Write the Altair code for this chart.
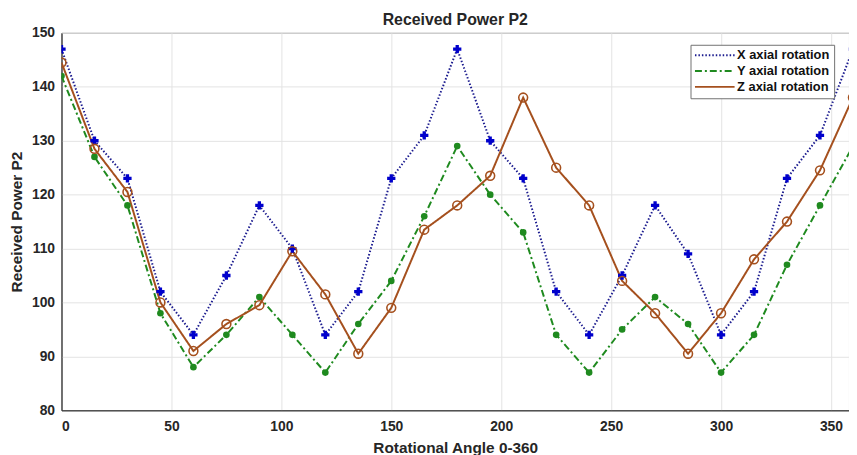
import altair as alt
import pandas as pd

angles = [0, 15, 30, 45, 60, 75, 90, 105, 120, 135, 150, 165, 180,
          195, 210, 225, 240, 255, 270, 285, 300, 315, 330, 345, 360]
x_rot = [147, 130, 123, 102, 94, 105, 118, 110, 94, 102, 123, 131, 147,
         130, 123, 102, 94, 105, 118, 109, 94, 102, 123, 131, 147]
y_rot = [142, 127, 118, 98, 88, 94, 101, 94, 87, 96, 104, 116, 129,
         120, 113, 94, 87, 95, 101, 96, 87, 94, 107, 118, 129]
z_rot = [144.5, 128.5, 120.5, 100, 91, 96, 99.5, 109.5, 101.5, 90.5, 99, 113.5, 118,
         123.5, 138, 125, 118, 104, 98, 90.5, 98, 108, 115, 124.5, 138]

series_names = ["X axial rotation", "Y axial rotation", "Z axial rotation"]
line_colors = ["#1c1c8f", "#1f8a1f", "#a5501e"]
marker_colors = ["#0000cc", "#1f8a1f", "#a5501e"]
dashes = [[1.5, 2], [7, 3, 2, 3], [1, 0]]
x_ticks = [0, 50, 100, 150, 200, 250, 300, 350]
y_ticks = [80, 90, 100, 110, 120, 130, 140, 150]

rows = []
for name, vals in zip(series_names, [x_rot, y_rot, z_rot]):
    for a, v in zip(angles, vals):
        rows.append({"angle": a, "power": v, "series": name})
df = pd.DataFrame(rows)

font = "Liberation Sans"
txt = "#262626"

x_enc = alt.X("angle:Q", scale=alt.Scale(domain=[0, 358.2], nice=False, zero=False),
              axis=alt.Axis(values=x_ticks, title="Rotational Angle 0-360", format="d"))
y_enc = alt.Y("power:Q", scale=alt.Scale(domain=[80, 150], nice=False, zero=False),
              axis=alt.Axis(values=y_ticks, title="Received Power P2", format="d"))

lines = alt.Chart(df).mark_line(clip=True, strokeWidth=2).encode(
    x=x_enc, y=y_enc,
    color=alt.Color("series:N", scale=alt.Scale(domain=series_names, range=line_colors),
                    legend=alt.Legend(title=None, orient="none", legendX=635, legendY=12,
                                      symbolType="M-4,0H4", symbolSize=100,
                                      symbolStrokeWidth=2, symbolOffset=14,
                                      labelOffset=16, labelFontSize=13,
                                      labelFontWeight="bold", labelColor="#111",
                                      labelFont=font, strokeColor="#707070",
                                      fillColor="white", padding=4, rowPadding=2)),
    strokeDash=alt.StrokeDash("series:N", scale=alt.Scale(domain=series_names, range=dashes),
                              legend=None),
    order="angle:Q",
)

px = alt.Chart(df).transform_filter(alt.datum.series == series_names[0]).mark_point(
    clip=True, shape="cross", filled=True, size=70, color=marker_colors[0], opacity=1
).encode(x=x_enc, y=y_enc)

py = alt.Chart(df).transform_filter(alt.datum.series == series_names[1]).mark_point(
    clip=True, shape="circle", filled=True, size=45, color=marker_colors[1], opacity=1
).encode(x=x_enc, y=y_enc)

pz = alt.Chart(df).transform_filter(alt.datum.series == series_names[2]).mark_point(
    clip=True, shape="circle", filled=False, size=80, strokeWidth=1.6,
    color=marker_colors[2], opacity=1
).encode(x=x_enc, y=y_enc)

chart = alt.layer(lines, px, py, pz).properties(
    width=795, height=381,
    background="white",
    autosize=alt.AutoSizeParams(type="none"),
    padding={"left": 54, "top": 23, "right": 0, "bottom": 43},
    title=alt.TitleParams("Received Power P2", fontSize=16, font=font, fontWeight="bold",
                          color=txt, offset=-2, anchor="middle"),
).configure_axis(
    labelFont=font, labelFontSize=14, labelFontWeight="bold", labelColor=txt,
    titleFont=font, titleFontSize=15.5, titleFontWeight="bold", titleColor=txt,
    domainColor=txt, domainWidth=1, tickSize=0, gridColor="#e3e3e3", gridWidth=1,
    labelPadding=7,
).configure_axisX(titlePadding=8, labelPadding=9).configure_axisY(
    titlePadding=7
).configure_view(stroke=txt, strokeWidth=1)

chart.save("out.html", embed_options={"renderer": "svg", "actions": False})
